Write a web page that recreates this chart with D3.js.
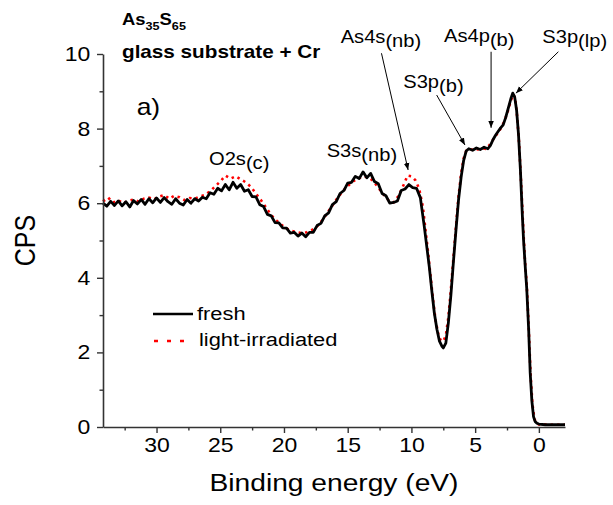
<!DOCTYPE html>
<html><head><meta charset="utf-8">
<script src="https://cdn.jsdelivr.net/npm/d3@7"></script>
<style>
html,body{margin:0;padding:0;background:#fff;}
text{font-family:"Liberation Sans",Arial,sans-serif;fill:#000;}
</style></head>
<body>
<svg id="chart" width="613" height="505"></svg>
<script>
// ---- data (binding energy in eV, intensity in CPS) ----
const freshE = [34.2,33.9,33.6,33.3,33.0,32.7,32.4,32.1,31.8,31.5,31.2,30.9,30.6,30.3,30.0,29.7,29.4,29.1,28.8,28.5,28.2,27.9,27.6,27.3,27.0,26.7,26.4,26.1,25.8,25.5,25.2,24.9,24.6,24.3,24.0,23.7,23.4,23.1,22.8,22.5,22.2,21.9,21.6,21.3,21.0,20.7,20.4,20.1,19.8,19.5,19.2,18.9,18.6,18.3,18.0,17.7,17.4,17.1,16.8,16.5,16.2,15.9,15.6,15.3,15.0,14.7,14.4,14.1,13.8,13.5,13.2,12.9,12.6,12.3,12.0,11.7,11.4,11.1,10.8,10.5,10.2,9.9,9.6,9.3,9.0,8.8,8.6,8.4,8.2,8.0,7.8,7.6,7.5,7.3,7.1,6.9,6.7,6.5,6.3,6.1,5.9,5.7,5.5,5.2,4.9,4.6,4.3,4.0,3.8,3.6,3.4,3.2,3.0,2.8,2.6,2.4,2.2,2.05,1.9,1.75,1.6,1.45,1.3,1.2,1.05,0.95,0.8,0.68,0.55,0.42,0.3,0.15,0.0,-0.5,-1.0,-1.5,-2.05];
const freshCPS = [6.00,5.92,6.05,5.94,6.06,5.93,6.04,5.90,6.07,5.98,6.10,5.97,6.12,6.01,6.14,6.02,6.15,6.04,5.97,6.12,6.00,5.95,6.10,6.00,6.12,6.06,6.16,6.12,6.28,6.24,6.40,6.33,6.50,6.36,6.56,6.40,6.50,6.32,6.36,6.18,6.17,5.96,5.91,5.70,5.66,5.48,5.47,5.34,5.33,5.20,5.22,5.12,5.20,5.10,5.22,5.22,5.40,5.46,5.66,5.74,5.96,6.04,6.26,6.34,6.54,6.56,6.72,6.66,6.84,6.68,6.80,6.58,6.52,6.26,6.20,6.00,6.02,6.06,6.34,6.38,6.50,6.42,6.40,6.15,5.40,4.85,4.30,3.65,3.05,2.62,2.30,2.16,2.12,2.25,2.80,3.55,4.45,5.30,6.10,6.70,7.15,7.40,7.46,7.42,7.48,7.44,7.50,7.46,7.55,7.70,7.82,7.92,8.02,8.10,8.30,8.55,8.80,8.95,8.85,8.50,7.85,6.90,5.70,5.00,4.20,3.70,2.60,1.45,0.70,0.28,0.15,0.10,0.08,0.06,0.06,0.06,0.06];

const irrE = [34.2,33.8,33.4,33.0,32.6,32.2,31.8,31.4,31.0,30.6,30.2,29.8,29.4,29.0,28.6,28.2,27.8,27.4,27.0,26.6,26.2,25.8,25.4,25.0,24.6,24.2,23.8,23.4,23.0,22.6,22.2,21.8,21.4,21.0,20.6,20.2,19.8,19.4,19.0,18.6,18.2,17.8,17.4,17.0,16.6,16.2,15.8,15.4,15.0,14.6,14.2,13.8,13.4,13.0,12.6,12.2,11.8,11.4,11.0,10.6,10.3,10.0,9.7,9.4,9.1,8.9,8.7,8.5,8.3,8.1,7.9,7.7,7.5,7.3,7.1,6.9,6.7,6.5,6.3,6.1,5.9,5.7,5.4,5.1,4.8,4.5,4.2,3.9,3.6,3.3,3.0,2.7,2.4,2.2,2.0,1.85,1.7,1.55,1.4,1.25,1.1,0.95,0.8,0.65,0.5,0.35,0.2,0.0,-1.0,-2.05];
const irrCPS = [6.05,6.15,6.02,6.08,6.00,6.06,6.10,6.04,6.12,6.15,6.10,6.18,6.22,6.12,6.20,6.16,6.08,6.14,6.12,6.18,6.22,6.32,6.45,6.58,6.74,6.66,6.72,6.64,6.56,6.44,6.26,6.08,5.88,5.68,5.54,5.42,5.32,5.26,5.22,5.20,5.22,5.28,5.38,5.54,5.74,5.94,6.14,6.32,6.46,6.58,6.66,6.72,6.70,6.60,6.42,6.24,6.08,6.02,6.20,6.50,6.74,6.72,6.62,6.40,5.90,5.30,4.70,4.05,3.40,2.85,2.50,2.32,2.30,2.45,2.95,3.70,4.55,5.40,6.20,6.80,7.20,7.40,7.42,7.46,7.44,7.48,7.46,7.55,7.70,7.85,8.00,8.20,8.50,8.75,8.92,8.80,8.30,7.60,6.60,5.50,4.50,3.80,2.70,1.40,0.60,0.22,0.10,0.07,0.06,0.06];

const xMajor = [30,25,20,15,10,5,0];
const xMinor = [32.5,27.5,22.5,17.5,12.5,7.5,2.5];
const yMajor = [0,2,4,6,8,10];
const yMinor = [1,3,5,7,9];

const seriesNames = ["fresh","light-irradiated"];
// annotations: label parts, text anchor point (eV, CPS), arrow from/to (eV, CPS)
const annoLabels = [
  {main:"O2s", sub:"(c)",  at:[25.88,7.02]},
  {main:"S3s", sub:"(nb)", at:[16.65,7.25]},
  {main:"As4s",sub:"(nb)", at:[15.55,10.29], from:[12.35,10.02], to:[10.26,6.89]},
  {main:"S3p", sub:"(b)",  at:[10.64,9.08],  from:[8.02,8.90],  to:[5.80,7.56]},
  {main:"As4p",sub:"(b)",  at:[7.44,10.33],  from:[3.75,10.06], to:[3.75,8.02]},
  {main:"S3p", sub:"(lp)", at:[-0.27,10.29], from:[-1.53,10.06],to:[1.80,8.95]}
];

// ---- chart ----
const SX = 1.15; // horizontal stretch of the original figure's text
const svg = d3.select("#chart");
const x = d3.scaleLinear().domain([34.2,-2.05]).range([103,565]);
const y = d3.scaleLinear().domain([0,10]).range([427,54]);

const defs = svg.append("defs");
defs.append("marker").attr("id","arr").attr("viewBox","0 0 10 10")
  .attr("refX",10).attr("refY",5).attr("markerWidth",7).attr("markerHeight",7)
  .attr("orient","auto").attr("markerUnits","userSpaceOnUse")
  .append("path").attr("d","M0,1 L10,5 L0,9 Z").attr("fill","#000");

const line = d3.line().x(d=>x(d[0])).y(d=>y(d[1]));
const irr = irrE.map((e,i)=>[e,irrCPS[i]]);
const fresh = freshE.map((e,i)=>[e,freshCPS[i]]);

svg.append("path").datum(irr).attr("d",line).attr("fill","none")
  .attr("stroke","#ff0000").attr("stroke-width",2.6).attr("stroke-dasharray","2.5,4");
svg.append("path").datum(fresh).attr("d",line).attr("fill","none")
  .attr("stroke","#000").attr("stroke-width",2.8).attr("stroke-linejoin","round");

// axes
const axColor = "#333";
const gx = svg.append("g").attr("transform","translate(0,427)")
  .call(d3.axisBottom(x).tickValues(xMajor).tickSize(6).tickSizeOuter(0).tickPadding(5));
svg.append("g").attr("transform","translate(0,427)")
  .call(d3.axisBottom(x).tickValues(xMinor).tickSize(3.5).tickSizeOuter(0).tickFormat(""))
  .select(".domain").remove();
const gy = svg.append("g").attr("transform","translate(103,0)")
  .call(d3.axisLeft(y).tickValues(yMajor).tickSize(6).tickSizeOuter(0).tickPadding(5));
svg.append("g").attr("transform","translate(103,0)")
  .call(d3.axisLeft(y).tickValues(yMinor).tickSize(3.5).tickSizeOuter(0).tickFormat(""))
  .select(".domain").remove();
svg.selectAll(".domain").attr("stroke",axColor).attr("stroke-width",1.6);
svg.selectAll(".tick line").attr("stroke",axColor).attr("stroke-width",1.4);
svg.selectAll(".tick text").attr("font-size",20).attr("fill","#000")
  .attr("font-family","Liberation Sans, Arial, sans-serif");
gx.selectAll(".tick text").attr("transform",`scale(${SX},1)`);
gy.selectAll(".tick text").attr("transform",`scale(${SX},1)`);

// axis titles
svg.append("text").attr("transform",`translate(${(x.range()[0]+x.range()[1])/2},491) scale(${SX},1)`)
  .attr("text-anchor","middle").attr("font-size",24.5).text("Binding energy (eV)");
svg.append("text").attr("transform",`translate(35,${(y.range()[0]+y.range()[1])/2}) rotate(-90) scale(1,${SX})`)
  .attr("text-anchor","middle").attr("font-size",25).text("CPS");

// titles
const t1 = svg.append("text").attr("transform",`translate(122,25) scale(${SX},1)`)
  .attr("font-weight","bold").attr("font-size",16);
t1.append("tspan").text("As");
t1.append("tspan").attr("font-size",11).attr("dy",5).text("35");
t1.append("tspan").attr("dy",-5).text("S");
t1.append("tspan").attr("font-size",11).attr("dy",5).text("65");
svg.append("text").attr("transform",`translate(122,58) scale(${SX},1)`)
  .attr("font-weight","bold").attr("font-size",18).text("glass substrate + Cr");
svg.append("text").attr("transform",`translate(${x(31.56)},${y(8.36)}) scale(${SX},1)`)
  .attr("font-size",23).text("a)");

// annotations
annoLabels.forEach(a=>{
  const t = svg.append("text").attr("transform",`translate(${x(a.at[0])},${y(a.at[1])}) scale(${SX},1)`)
    .attr("font-size",17.5);
  t.append("tspan").text(a.main);
  t.append("tspan").attr("dy",4).text(a.sub);
  if(a.from){
    svg.append("line").attr("x1",x(a.from[0])).attr("y1",y(a.from[1]))
      .attr("x2",x(a.to[0])).attr("y2",y(a.to[1]))
      .attr("stroke","#000").attr("stroke-width",1).attr("marker-end","url(#arr)");
  }
});

// legend
const lg = svg.append("g");
lg.append("line").attr("x1",153).attr("x2",193).attr("y1",314).attr("y2",314)
  .attr("stroke","#000").attr("stroke-width",2.6);
lg.append("text").attr("transform",`translate(197,320) scale(${SX},1)`).attr("font-size",19).text(seriesNames[0]);
lg.append("line").attr("x1",154).attr("x2",190).attr("y1",341).attr("y2",341)
  .attr("stroke","#ff0000").attr("stroke-width",2.6).attr("stroke-dasharray","4,9");
lg.append("text").attr("transform",`translate(199,346) scale(${SX},1)`).attr("font-size",19).text(seriesNames[1]);
</script>
</body></html>
